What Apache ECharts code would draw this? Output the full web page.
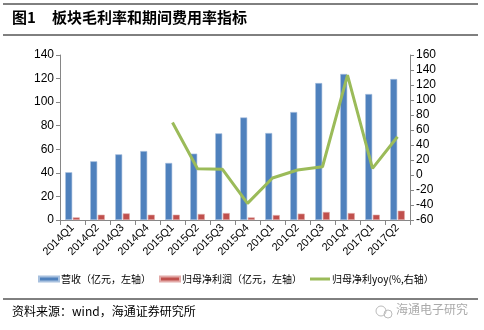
<!DOCTYPE html>
<html>
<head>
<meta charset="utf-8">
<script src="https://cdn.jsdelivr.net/npm/echarts@6/dist/echarts.min.js"></script>
<style>
html,body{margin:0;padding:0;background:#fff;}
#c{width:484px;height:330px;}
</style>
</head>
<body>
<div id="c"></div>
<script>
var categories = ['2014Q1','2014Q2','2014Q3','2014Q4','2015Q1','2015Q2','2015Q3','2015Q4','201Q1','201Q2','201Q3','201Q4','2017Q1','2017Q2'];
var revenue = [40.5, 49.8, 55.7, 58.5, 48.4, 56.3, 73.5, 87.0, 73.8, 91.6, 116.2, 123.9, 106.9, 119.6];
var netProfit = [2.2, 4.5, 5.6, 4.5, 4.5, 5.1, 5.9, 2.2, 4.2, 5.4, 6.8, 5.9, 4.5, 7.9];
var yoy = [null, null, null, null, 70, 8.4, 7.6, -37.8, -4, 6.7, 11, 133.3, 8.9, 51];
var leftTicks = [0, 140, 20];
var rightTicks = [-60, 160, 20];
var names = ['营收（亿元，左轴）', '归母净利润（亿元，左轴）', '归母净利yoy(%,右轴）'];

var chart = echarts.init(document.getElementById('c'), null, {renderer: 'canvas'});
var axisFont = {fontFamily: 'Liberation Sans, Arial, sans-serif', fontSize: 12, color: '#000'};
var axisLine = {show: true, lineStyle: {color: '#868686', width: 1}};
chart.setOption({
  animation: false,
  backgroundColor: '#fff',
  textStyle: {fontFamily: 'Liberation Sans, "Noto Sans CJK SC", sans-serif'},
  grid: {left: 60, right: 74, top: 55, bottom: 110, containLabel: false},
  legend: {
    left: 33, top: 269,
    itemWidth: 20, itemHeight: 5, itemGap: 8,
    textStyle: {fontFamily: '"Noto Sans CJK SC", sans-serif', fontSize: 10, color: '#000', padding: [0,0,0,-3]},
    data: [
      {name: names[0], icon: 'rect'},
      {name: names[1], icon: 'rect'},
      {name: names[2], icon: 'path://M0,0 L20,0 L20,3 L0,3 Z', itemStyle: {color: '#9BBB59'}}
    ]
  },
  xAxis: {
    type: 'category', data: categories,
    axisLine: axisLine,
    axisTick: {show: true, alignWithLabel: false, length: 5, lineStyle: {color: '#868686'}},
    axisLabel: {rotate: 45, interval: 0, fontFamily: 'Liberation Sans, Arial, sans-serif', fontSize: 11, color: '#000', margin: 6},
    splitLine: {show: false}
  },
  yAxis: [
    {type: 'value', min: leftTicks[0], max: leftTicks[1], interval: leftTicks[2],
     axisLine: axisLine, axisTick: {show: true, length: 4, lineStyle: {color: '#868686'}},
     axisLabel: Object.assign({margin: 6}, axisFont), splitLine: {show: false}},
    {type: 'value', min: rightTicks[0], max: rightTicks[1], interval: rightTicks[2], position: 'right',
     axisLine: axisLine, axisTick: {show: true, length: 4, lineStyle: {color: '#868686'}},
     axisLabel: Object.assign({margin: 6}, axisFont), splitLine: {show: false}}
  ],
  series: [
    {name: names[0], type: 'bar', data: revenue, barWidth: 7, barGap: '8%',
     itemStyle: {color: '#4F81BD', borderColor: '#A7C0DE', borderWidth: 0.6}},
    {name: names[1], type: 'bar', data: netProfit, barWidth: 7, barGap: '8%',
     itemStyle: {color: '#C0504D', borderColor: '#E2A9A7', borderWidth: 0.6}},
    {name: names[2], type: 'line', yAxisIndex: 1, data: yoy, symbol: 'none', connectNulls: false,
     lineStyle: {color: '#9BBB59', width: 3}, itemStyle: {color: '#9BBB59'}}
  ],
  graphic: [
    {type: 'line', shape: {x1: 3, y1: 4, x2: 478, y2: 4}, style: {stroke: '#000', lineWidth: 1}},
    {type: 'line', shape: {x1: 3, y1: 35, x2: 478, y2: 35}, style: {stroke: '#000', lineWidth: 1}},
    {type: 'text', left: 12, top: 10, style: {text: '图1', font: 'bold 15px "Noto Sans CJK SC", sans-serif', fill: '#000'}},
    {type: 'text', left: 52, top: 10, style: {text: '板块毛利率和期间费用率指标', font: 'bold 15px "Noto Sans CJK SC", sans-serif', fill: '#000'}},
    {type: 'line', shape: {x1: 3, y1: 299, x2: 478, y2: 299}, style: {stroke: '#000', lineWidth: 1}},
    {type: 'text', left: 12, top: 305, style: {text: '资料来源：wind，海通证券研究所', font: '12px "Noto Sans CJK SC", sans-serif', fill: '#000'}},
    {type: 'circle', shape: {cx: 381, cy: 311, r: 5}, style: {fill: 'none', stroke: '#bbb', lineWidth: 1}},
    {type: 'circle', shape: {cx: 388, cy: 314, r: 4}, style: {fill: 'none', stroke: '#bbb', lineWidth: 1}},
    {type: 'text', left: 396, top: 303, style: {text: '海通电子研究', font: '12px "Noto Sans CJK SC", sans-serif', fill: '#aaa'}}
  ]
});
</script>
</body>
</html>
